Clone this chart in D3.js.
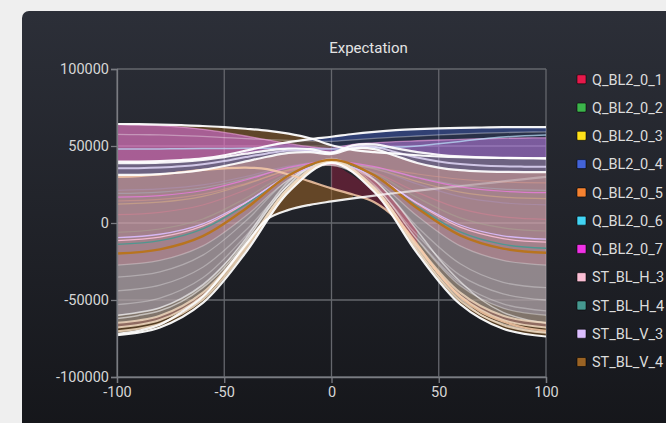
<!DOCTYPE html>
<html>
<head>
<meta charset="utf-8">
<script src="https://cdn.jsdelivr.net/npm/d3@7"></script>
<style>
  html, body { margin: 0; padding: 0; background: #efefef; overflow: hidden; }
  svg { display: block; font-family: Roboto, "Noto Sans", sans-serif; }
</style>
</head>
<body>
<svg id="chart" width="666" height="423"></svg>
<script>
// ---- series ----
const seriesNames = ["Q_BL2_0_1", "Q_BL2_0_2", "Q_BL2_0_3", "Q_BL2_0_4", "Q_BL2_0_5", "Q_BL2_0_6",
                     "Q_BL2_0_7", "ST_BL_H_3", "ST_BL_H_4", "ST_BL_V_3", "ST_BL_V_4"];
const seriesColors = ["#e6194b", "#3cb44b", "#ffe119", "#4363d8", "#f58231", "#42d4f4",
                      "#f032e6", "#fabed4", "#469990", "#dcbeff", "#9a6324"];

const xTicks = [-100, -50, 0, 50, 100];
const yTicks = [-100000, -50000, 0, 50000, 100000];

// sample positions
const xCoarse = [-100, -80, -60, -40, -20, 0, 20, 40, 60, 80, 100];
const xFine = [-100, -90, -80, -70, -60, -50, -40, -30, -20, -10, 0, 10, 20, 30, 40, 50, 60, 70, 80, 90, 100];

// mean expectation per series (on xCoarse)
const meanQ1 = [5400, 6900, 11700, 21500, 33400, 39000, 32900, 19900, 9300, 4000, 2400];
const meanQ2 = [-6000, -3900, 2600, 16100, 32300, 40000, 32400, 16500, 3300, -3200, -5200];
const meanQ3 = [12300, 13500, 17300, 25100, 34500, 39000, 35100, 26900, 20100, 16800, 15800];
const meanQ4 = [21200, 22100, 24700, 30200, 36900, 40000, 35300, 25300, 17100, 13100, 11800];
const meanQ5 = [14300, 15300, 18700, 25600, 34000, 38000, 36000, 31800, 28400, 26700, 26100];
const meanQ6 = [19200, 20100, 22900, 28700, 35700, 39000, 36000, 29700, 24500, 22000, 21200];
const meanQ7 = [16800, 17800, 21100, 27900, 36100, 40000, 36600, 29400, 23500, 20600, 19700];
const meanH3 = [-11400, -9200, -1900, 13000, 31000, 39500, 30800, 12500, -2700, -10100, -12400];
const meanH4 = [-13900, -11500, -3800, 11900, 30900, 40000, 30500, 10600, -5800, -13900, -16400];
const meanV3 = [-9500, -7300, -500, 13500, 30400, 38500, 30300, 13000, -1300, -8300, -10500];
const meanV4 = [-19800, -17100, -8500, 9300, 30800, 41000, 30900, 9600, -8000, -16600, -19300];

// bell-shaped envelope traces (on xCoarse)
const envLow = [-72800, -67800, -51900, -19200, 20200, 39000, 20100, -19700, -52700, -68700, -73700];
const env2 = [-70300, -65400, -49700, -17400, 21500, 40000, 21300, -17900, -50500, -66300, -71300];
const env3 = [-67800, -63000, -47400, -15700, 22700, 41000, 22700, -15700, -47400, -63000, -67800];
const env4 = [-64800, -60200, -45200, -14600, 22400, 40000, 22400, -14600, -45200, -60200, -64800];
const env5 = [-59900, -55300, -40800, -11000, 24900, 42000, 24900, -11000, -40800, -55300, -59900];
const env6 = [-53000, -48800, -35600, -8400, 24400, 40000, 24000, -10500, -39000, -52500, -57000];
const env7 = [-44100, -40400, -28700, -4700, 24200, 38000, 23500, -8000, -34000, -46000, -50000];
const env8 = [-35200, -31800, -20900, 1300, 28200, 41000, 27500, -2500, -26500, -38500, -42000];
const env9 = [-27300, -24300, -14900, 4500, 27900, 39000, 27900, 4500, -14900, -24300, -27300];

// upper traces and crossing traces (on xFine)
const topLeft = [64300, 64200, 63900, 63500, 63000, 62200, 61200, 60000, 58000, 55000, 50500, 47500, 46000, 45000, 44000, 43200, 42700, 42400, 42200, 42100, 42000];
const riseRight = [39800, 39900, 40200, 40900, 42000, 44000, 47000, 50000, 52500, 54500, 56000, 57800, 59200, 60300, 61000, 61500, 61800, 62000, 62200, 62300, 62300];
const upperA = [38800, 38900, 39200, 39800, 41000, 42800, 45000, 47000, 48300, 48000, 45800, 50500, 51000, 48500, 46000, 44300, 43200, 42600, 42300, 42100, 42000];
const upperB = [35500, 35600, 36000, 36800, 38200, 40200, 42800, 45200, 47000, 47000, 45300, 49500, 49500, 46000, 42500, 40000, 38300, 37300, 36800, 36600, 36500];
const upperC = [31200, 31300, 31800, 32800, 34500, 37000, 40000, 43000, 45500, 46000, 44800, 48500, 48000, 43500, 39000, 36000, 34300, 33500, 33200, 33000, 33000];
const magentaEdge = [64000, 63800, 63300, 62300, 60800, 58800, 56500, 54000, 51500, 49500, 48500, 51000, 52000, 52800, 53400, 53900, 54300, 54700, 55000, 55200, 55300];
const navyBase = [57500, 57400, 57200, 56800, 56200, 55500, 54800, 54200, 53700, 53300, 53000, 54000, 55000, 55800, 56500, 57200, 57800, 58300, 58700, 59000, 59200];
const paleBlue = [48000, 48000, 48100, 48200, 48300, 48400, 48500, 48500, 48400, 48200, 48000, 48300, 48800, 49300, 50000, 51500, 53000, 54500, 55800, 56700, 57200];
const crossLow = [-72000, -70000, -66000, -58000, -48000, -32000, -14000, 2500, 8500, 11800, 14000, 16000, 17800, 19500, 21000, 22500, 24000, 25500, 27000, 28500, 30000];
const crossHigh = [30000, 30500, 31500, 33000, 34500, 35500, 36000, 35000, 31500, 27000, 22500, 18500, 13500, 3000, -14000, -33000, -48000, -58000, -64000, -68000, -70000];
const dropA = [-60000, -58000, -55000, -49000, -40000, -27000, -10000, 10000, 27000, 36500, 40000, 37000, 28000, 13000, -5000, -23000, -38000, -50000, -58000, -62500, -65000];
const dropB = [-62000, -60000, -57000, -51000, -42000, -29000, -12000, 8000, 25000, 36000, 37500, 33000, 21500, 3500, -17000, -35000, -49000, -60000, -65500, -69000, -71000];

// ---- layout ----
const svg = d3.select("#chart");
const W = 666, H = 423;
const plot = { left: 117, right: 546, top: 69, bottom: 377 };

const x = d3.scaleLinear().domain([-100, 100]).range([plot.left, plot.right]);
const y = d3.scaleLinear().domain([-100000, 100000]).range([plot.bottom, plot.top]);

const defs = svg.append("defs");
const grad = defs.append("linearGradient").attr("id", "cardBg")
  .attr("x1", 0).attr("y1", 0).attr("x2", 0).attr("y2", 1);
grad.append("stop").attr("offset", "0%").attr("stop-color", "#2c2f38");
grad.append("stop").attr("offset", "100%").attr("stop-color", "#141519");

// the rising cross trace fades out towards the right
const fade = defs.append("linearGradient").attr("id", "crossFade")
  .attr("gradientUnits", "userSpaceOnUse")
  .attr("x1", x(10)).attr("x2", x(60)).attr("y1", 0).attr("y2", 0);
fade.append("stop").attr("offset", "0%").attr("stop-color", "#fff").attr("stop-opacity", 0.92);
fade.append("stop").attr("offset", "100%").attr("stop-color", "#fff").attr("stop-opacity", 0.3);

svg.append("rect").attr("width", W).attr("height", H).attr("fill", "#efefef");
svg.append("rect").attr("x", 22).attr("y", 11).attr("width", 720).attr("height", 440)
  .attr("rx", 7).attr("fill", "url(#cardBg)");

// title
svg.append("text").attr("x", 368.5).attr("y", 52.5).attr("text-anchor", "middle")
  .attr("fill", "#e4e4e4").attr("font-size", 15).text("Expectation");

// grid
const grid = svg.append("g").attr("stroke", "#65676d").attr("stroke-width", 1.3);
xTicks.forEach(t => grid.append("line").attr("x1", x(t)).attr("x2", x(t))
  .attr("y1", plot.top).attr("y2", plot.bottom));
yTicks.forEach(t => grid.append("line").attr("y1", y(t)).attr("y2", y(t))
  .attr("x1", plot.left).attr("x2", plot.right));

// plot content
const toPts = (xs, ys) => xs.map((v, i) => [v, ys[i]]);
const C = {
  meanQ1: toPts(xCoarse, meanQ1), meanQ2: toPts(xCoarse, meanQ2), meanQ3: toPts(xCoarse, meanQ3),
  meanQ4: toPts(xCoarse, meanQ4), meanQ5: toPts(xCoarse, meanQ5), meanQ6: toPts(xCoarse, meanQ6),
  meanQ7: toPts(xCoarse, meanQ7), meanH3: toPts(xCoarse, meanH3), meanH4: toPts(xCoarse, meanH4),
  meanV3: toPts(xCoarse, meanV3), meanV4: toPts(xCoarse, meanV4),
  envLow: toPts(xCoarse, envLow), env2: toPts(xCoarse, env2), env3: toPts(xCoarse, env3),
  env4: toPts(xCoarse, env4), env5: toPts(xCoarse, env5), env6: toPts(xCoarse, env6),
  env7: toPts(xCoarse, env7), env8: toPts(xCoarse, env8), env9: toPts(xCoarse, env9),
  topLeft: toPts(xFine, topLeft), riseRight: toPts(xFine, riseRight), upperA: toPts(xFine, upperA),
  upperB: toPts(xFine, upperB), upperC: toPts(xFine, upperC), magentaEdge: toPts(xFine, magentaEdge),
  navyBase: toPts(xFine, navyBase), paleBlue: toPts(xFine, paleBlue), crossLow: toPts(xFine, crossLow),
  crossHigh: toPts(xFine, crossHigh), dropA: toPts(xFine, dropA), dropB: toPts(xFine, dropB)
};

const line = d3.line().x(d => x(d[0])).y(d => y(d[1])).curve(d3.curveCatmullRom.alpha(0.5));
const inRange = (from, to) => d => d[0] >= from && d[0] <= to;

function bandPath(lo, hi, from = -100, to = 100) {
  const top = C[hi].filter(inRange(from, to));
  const bot = C[lo].filter(inRange(from, to)).reverse();
  return line(top) + line(bot).replace(/^M/, "L") + "Z";
}

defs.append("clipPath").attr("id", "plotClip").append("rect")
  .attr("x", plot.left).attr("y", plot.top)
  .attr("width", plot.right - plot.left).attr("height", plot.bottom - plot.top);
defs.append("clipPath").attr("id", "belowLow").append("path")
  .attr("d", line(C.envLow) + `L${x(100)},${y(-100000)}L${x(-100)},${y(-100000)}Z`);

const g = svg.append("g").attr("clip-path", "url(#plotClip)");

// faint per-series mean traces sit underneath the filled ranges
const underLayer = g.append("g").attr("fill", "none");
["meanQ1", "meanQ2", "meanQ3", "meanQ4", "meanQ5", "meanQ6"].forEach((k, i) =>
  underLayer.append("path").attr("d", line(C[k])).attr("stroke", seriesColors[i])
    .attr("stroke-width", 1.2).attr("stroke-opacity", 0.5));

// filled ranges between traces
const bands = [
  { lo: "envLow", hi: "upperC", s: 10, op: 0.45 },
  { lo: "env3", hi: "upperC", s: 7, op: 0.36 },
  { lo: "env5", hi: "upperC", s: 9, op: 0.25 },
  { lo: "env4", hi: "env9", s: 8, op: 0.2 },
  { lo: "upperC", hi: "magentaEdge", s: 9, op: 0.4 },
  { lo: "upperA", hi: "magentaEdge", s: 7, op: 0.22, to: 0 },
  { lo: "upperA", hi: "magentaEdge", s: 6, op: 0.18 },
  { lo: "upperA", hi: "magentaEdge", s: 0, op: 0.15, to: 0 },
  { lo: "magentaEdge", hi: "topLeft", s: 10, op: 0.50, to: 0 },
  { lo: "upperA", hi: "riseRight", s: 3, op: 0.15 },
  { lo: "navyBase", hi: "riseRight", s: 3, op: 0.30, from: -10 },
  { lo: "dropB", hi: "dropA", s: 0, op: 0.30, from: -10, to: 40 },
  { lo: "crossLow", hi: "crossHigh", s: 10, op: 0.55, from: -30, to: 10, clip: "belowLow" },
  { lo: "crossHigh", hi: "envLow", s: 0, op: 0.28, from: 0, to: 40, clip: "belowLow" }
];
const bandLayer = g.append("g");
bands.forEach(b => {
  const p = bandLayer.append("path")
    .attr("d", bandPath(b.lo, b.hi, b.from ?? -100, b.to ?? 100))
    .attr("fill", seriesColors[b.s]).attr("fill-opacity", b.op).attr("stroke", "none");
  if (b.clip) p.attr("clip-path", `url(#${b.clip})`);
});

// traces drawn over the fills
const traces = [
  { c: "env5", stroke: "#ffffff", op: 0.35, w: 1.3 },
  { c: "env6", stroke: "#ffffff", op: 0.30, w: 1.3 },
  { c: "env7", stroke: "#ffffff", op: 0.30, w: 1.3 },
  { c: "env8", stroke: "#ffffff", op: 0.30, w: 1.3 },
  { c: "env9", stroke: "#ffffff", op: 0.30, w: 1.3 },
  { c: "dropA", stroke: "#ffffff", op: 0.55, w: 1.5 },
  { c: "dropB", stroke: "#ffffff", op: 0.55, w: 1.5 },
  { c: "navyBase", stroke: "#ffffff", op: 0.35, w: 1.3 },
  { c: "magentaEdge", stroke: "#f7a6e6", op: 0.6, w: 1.3 },
  { c: "paleBlue", stroke: "#bfe6ff", op: 0.7, w: 1.5 },
  { c: "meanQ7", stroke: "#f27ae8", op: 0.7, w: 1.2 },
  { c: "meanH3", stroke: seriesColors[7], op: 0.9, w: 1.3 },
  { c: "meanH4", stroke: seriesColors[8], op: 0.9, w: 1.3 },
  { c: "meanV3", stroke: seriesColors[9], op: 0.9, w: 1.3 },
  { c: "env2", stroke: "#f2dcc2", op: 0.85, w: 2 },
  { c: "env3", stroke: "#f2dcc2", op: 0.85, w: 2 },
  { c: "env4", stroke: "#f2dcc2", op: 0.8, w: 2 },
  { c: "crossHigh", stroke: "#f6c9a8", op: 0.85, w: 2.2 },
  { c: "upperB", stroke: "#e8e0ff", op: 0.8, w: 2 },
  { c: "meanV4", stroke: "#b8741f", op: 1, w: 2.4 },
  { c: "envLow", stroke: "#ffffff", op: 0.95, w: 2.2 },
  { c: "crossLow", stroke: "url(#crossFade)", op: 1, w: 2.2 },
  { c: "topLeft", stroke: "#ffffff", op: 0.95, w: 2.2 },
  { c: "riseRight", stroke: "#ffffff", op: 0.95, w: 2.2 },
  { c: "upperA", stroke: "#ffffff", op: 0.92, w: 2.2 },
  { c: "upperC", stroke: "#ffffff", op: 0.92, w: 2.2 }
];
const traceLayer = g.append("g").attr("fill", "none");
traces.forEach(t => traceLayer.append("path")
  .attr("d", line(C[t.c]))
  .attr("stroke", t.stroke).attr("stroke-opacity", t.op).attr("stroke-width", t.w));

// axes
const yAxis = d3.axisLeft(y).tickValues(yTicks).tickSize(6).tickPadding(2).tickFormat(d => String(d));
const xAxis = d3.axisBottom(x).tickValues(xTicks).tickSize(6).tickPadding(4).tickFormat(d => String(d));
const ya = svg.append("g").attr("transform", `translate(${plot.left},0)`).call(yAxis);
const xa = svg.append("g").attr("transform", `translate(0,${plot.bottom})`).call(xAxis);
[ya, xa].forEach(a => {
  a.select(".domain").attr("stroke", "#7a7c82").attr("stroke-width", 1.3);
  a.selectAll(".tick line").attr("stroke", "#7a7c82").attr("stroke-width", 1.3);
  a.selectAll(".tick text").attr("fill", "#d6d6d6").attr("font-size", 14.5)
    .attr("font-family", "Roboto, 'Noto Sans', sans-serif");
});

// legend
const legend = svg.append("g");
seriesNames.forEach((name, i) => {
  const cy = 79.3 + i * 28.27;
  legend.append("rect").attr("x", 577).attr("y", cy - 4.5).attr("width", 9).attr("height", 9)
    .attr("rx", 1).attr("fill", seriesColors[i]).attr("stroke", "rgba(0,0,0,0.55)").attr("stroke-width", 1);
  legend.append("text").attr("x", 592).attr("y", cy).attr("dy", "0.36em")
    .attr("fill", "#dcdcdc").attr("font-size", 14.5).text(name);
});
</script>
</body>
</html>
